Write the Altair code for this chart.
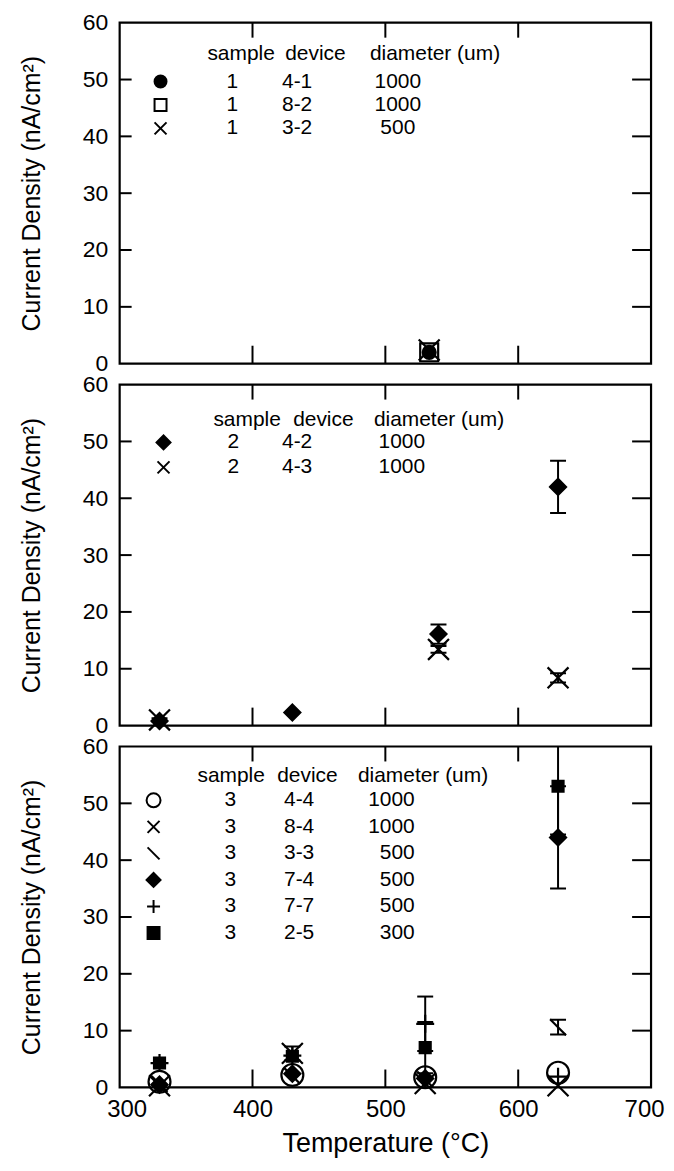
import altair as alt
import pandas as pd

FONT = "Liberation Sans"
W, H = 533, 342

TEMP_TICKS = [300, 400, 500, 600, 700]
J_TICKS = [0, 10, 20, 30, 40, 50, 60]
TEMP_INNER = [400, 500, 600]
J_INNER = [10, 20, 30, 40, 50]

# ---- sample 1 ----
S1_41_T = [533]; S1_41_J = [2.0]; S1_41_E = [0.0]
S1_82_T = [533]; S1_82_J = [2.0]; S1_82_E = [0.0]
S1_32_T = [533]; S1_32_J = [2.4]; S1_32_E = [0.0]

# ---- sample 2 ----
S2_42_T = [330, 430, 540, 630]; S2_42_J = [0.8, 2.3, 16.1, 42.0]; S2_42_E = [0.0, 0.0, 1.7, 4.6]
S2_43_T = [330, 540, 630]; S2_43_J = [1.0, 13.4, 8.4]; S2_43_E = [0.3, 0.6, 0.8]

# ---- sample 3 ----
S3_T = [330, 430, 530, 630]
S3_44_J = [1.0, 2.2, 1.8, 2.6]; S3_44_E = [0.0, 0.0, 0.0, 0.0]
S3_84_J = [0.3, 6.0, 0.7, 0.3]; S3_84_E = [0.0, 1.2, 0.0, 0.0]
S3_33_J = [0.6, 2.0, 1.4, 10.6]; S3_33_E = [0.0, 0.0, 0.0, 1.3]
S3_74_J = [0.5, 2.4, 1.6, 44.0]; S3_74_E = [0.0, 0.0, 0.0, 9.0]
S3_77_J = [4.3, 5.6, 11.2, 1.9]; S3_77_E = [0.0, 0.0, 4.8, 0.0]
S3_25_J = [4.3, 5.5, 7.0, 53.0]; S3_25_E = [0.0, 0.0, 4.5, 8.5]

X_PATH = "M-1,-1L1,1M-1,1L1,-1"
BACK_PATH = "M-1,-1L1,1"
PLUS_PATH = "M-1,0L1,0M0,-1L0,1"
CAP_PATH = "M-1,0L1,0"
VTICK_PATH = "M0,-1L0,1"

# style: shape, fill, data size (px width), legend size (px width)
STYLE = {
    "fcircle": ("circle", "black", 13, 12),
    "osquare": ("square", "transparent", 18, 12),
    "x": (X_PATH, "transparent", 21, 12),
    "diamond": ("diamond", "black", 16, 14),
    "ocircle": ("circle", "transparent", 22, 14),
    "back": (BACK_PATH, "transparent", 16, 12),
    "plus": (PLUS_PATH, "transparent", 18, 13),
    "fsquare": ("square", "black", 11, 12),
}

PANEL1 = [
    ("1", "4-1", "1000", S1_41_T, S1_41_J, S1_41_E, "fcircle"),
    ("1", "8-2", "1000", S1_82_T, S1_82_J, S1_82_E, "osquare"),
    ("1", "3-2", "500", S1_32_T, S1_32_J, S1_32_E, "x"),
]
PANEL2 = [
    ("2", "4-2", "1000", S2_42_T, S2_42_J, S2_42_E, "diamond"),
    ("2", "4-3", "1000", S2_43_T, S2_43_J, S2_43_E, "x"),
]
PANEL3 = [
    ("3", "4-4", "1000", S3_T, S3_44_J, S3_44_E, "ocircle"),
    ("3", "8-4", "1000", S3_T, S3_84_J, S3_84_E, "x"),
    ("3", "3-3", "500", S3_T, S3_33_J, S3_33_E, "back"),
    ("3", "7-4", "500", S3_T, S3_74_J, S3_74_E, "diamond"),
    ("3", "7-7", "500", S3_T, S3_77_J, S3_77_E, "plus"),
    ("3", "2-5", "300", S3_T, S3_25_J, S3_25_E, "fsquare"),
]

xscale = alt.Scale(domain=[300, 700], nice=False, zero=False)
yscale = alt.Scale(domain=[0, 60], nice=False, zero=False)

yaxis = alt.Axis(values=J_TICKS, title="Current Density (nA/cm²)", grid=False, domain=False,
                 ticks=False, tickSize=0, labelPadding=12, labelFontSize=23, labelFont=FONT,
                 titleFont=FONT, titleFontSize=25, titleFontWeight="normal", titlePadding=38,
                 labelColor="black", titleColor="black", labelFlush=False)
xaxis_full = alt.Axis(values=TEMP_TICKS, title="Temperature (°C)", grid=False, domain=False,
                      ticks=False, tickSize=0, labelPadding=10, labelFontSize=24, labelFont=FONT,
                      titleFont=FONT, titleFontSize=27, titleFontWeight="normal", titlePadding=9,
                      labelColor="black", titleColor="black", labelFlush=True, labelFlushOffset=13)


def panel(series, leg, show_x):
    xaxis = xaxis_full if show_x else None

    def X(f):
        return alt.X(f, type="quantitative", scale=xscale, axis=xaxis)

    def Y(f):
        return alt.Y(f, type="quantitative", scale=yscale, axis=yaxis)

    pts, errs, caps, legrows = [], [], [], []
    for i, (smp, dev, dia, T, J, E, sty) in enumerate(series):
        shape, fill, sz, lsz = STYLE[sty]
        for t, j, e in zip(T, J, E):
            pts.append(dict(T=t, J=j, shape=shape, fill=fill, size=sz * sz))
            if e > 0:
                errs.append(dict(T=t, lo=j - e, hi=j + e))
                caps.append(dict(T=t, J=j - e))
                caps.append(dict(T=t, J=j + e))
        legrows.append(dict(sample=smp, device=dev, diam=dia, shape=shape, fill=fill,
                            size=lsz * lsz, ly=leg["y0"] + i * leg["dy"]))
    pts = pd.DataFrame(pts)
    lg = pd.DataFrame(legrows)
    layers = []
    if errs:
        layers.append(alt.Chart(pd.DataFrame(errs)).mark_rule(color="black", strokeWidth=2, clip=True)
                      .encode(x=X("T"), y=Y("lo"), y2="hi"))
        layers.append(alt.Chart(pd.DataFrame(caps)).mark_point(shape=CAP_PATH, size=256, stroke="black",
                                                                strokeWidth=2, opacity=1, clip=True)
                      .encode(x=X("T"), y=Y("J")))
    layers.append(alt.Chart(pts).mark_point(filled=True, stroke="black", strokeWidth=2.2, opacity=1)
                  .encode(x=X("T"), y=Y("J"),
                          shape=alt.Shape("shape:N", scale=None),
                          fill=alt.Fill("fill:N", scale=None),
                          size=alt.Size("size:Q", scale=None)))
    # inward ticks (drawn as short path symbols)
    jt = pd.DataFrame({"v": J_INNER, "lft": [TEMP_TICKS[0]] * len(J_INNER),
                       "rgt": [TEMP_TICKS[-1]] * len(J_INNER)})
    tt = pd.DataFrame({"v": TEMP_INNER, "top": [J_TICKS[-1]] * len(TEMP_INNER),
                       "bot": [J_TICKS[0]] * len(TEMP_INNER)})
    layers.append(alt.Chart(jt).mark_point(shape=CAP_PATH, size=12 * 12, stroke="black", strokeWidth=2,
                                           opacity=1, xOffset=6)
                  .encode(y=Y("v"), x=X("lft")))
    layers.append(alt.Chart(jt).mark_point(shape=CAP_PATH, size=19 * 19, stroke="black", strokeWidth=2,
                                           opacity=1, xOffset=-9.5)
                  .encode(y=Y("v"), x=X("rgt")))
    layers.append(alt.Chart(tt).mark_point(shape=VTICK_PATH, size=15 * 15, stroke="black", strokeWidth=2,
                                           opacity=1, yOffset=7.5)
                  .encode(x=X("v"), y=Y("top")))
    layers.append(alt.Chart(tt).mark_point(shape=VTICK_PATH, size=18 * 18, stroke="black", strokeWidth=2,
                                           opacity=1, yOffset=-9)
                  .encode(x=X("v"), y=Y("bot")))
    # legend
    hdr = pd.DataFrame({"h": ["sample", "device", "diameter (um)"], "hx": leg["hx"], "hy": [leg["hy"]] * 3})
    layers.append(alt.Chart(hdr).mark_text(align="left", baseline="middle", fontSize=21, font=FONT, color="black")
                  .encode(x=alt.X("hx:Q", scale=None), y=alt.Y("hy:Q", scale=None), text="h:N"))
    layers.append(alt.Chart(lg).mark_point(filled=True, stroke="black", strokeWidth=2, opacity=1)
                  .encode(x=alt.value(leg["mx"]), y=alt.Y("ly:Q", scale=None),
                          shape=alt.Shape("shape:N", scale=None),
                          fill=alt.Fill("fill:N", scale=None),
                          size=alt.Size("size:Q", scale=None)))
    for col, cx, al in [("sample", leg["cx"][0], "center"), ("device", leg["cx"][1], "center"),
                        ("diam", leg["cx"][2], leg["dalign"])]:
        layers.append(alt.Chart(lg).mark_text(align=al, baseline="middle", fontSize=21, font=FONT, color="black")
                      .encode(x=alt.value(cx), y=alt.Y("ly:Q", scale=None), text=f"{col}:N"))
    return alt.layer(*layers).properties(width=W, height=H)


LEG1 = dict(hy=31, hx=[88, 166, 251], y0=59, dy=23.5, mx=41, cx=[113, 178, 279], dalign="center")
LEG2 = dict(hy=36, hx=[94, 174, 255], y0=58, dy=25, mx=44, cx=[114, 178, 283], dalign="center")
LEG3 = dict(hy=30, hx=[78, 158, 239], y0=54, dy=26.6, mx=34, cx=[111, 180, 296], dalign="right")

chart = alt.vconcat(
    panel(PANEL1, LEG1, False),
    panel(PANEL2, LEG2, False),
    panel(PANEL3, LEG3, True),
    spacing=21, bounds="flush",
).properties(
    padding={"left": 10, "top": 0, "right": 0, "bottom": 0},
    background="white",
).configure_view(stroke="black", strokeWidth=2.2)

chart.save("out.html", embed_options={"renderer": "svg", "actions": False})
